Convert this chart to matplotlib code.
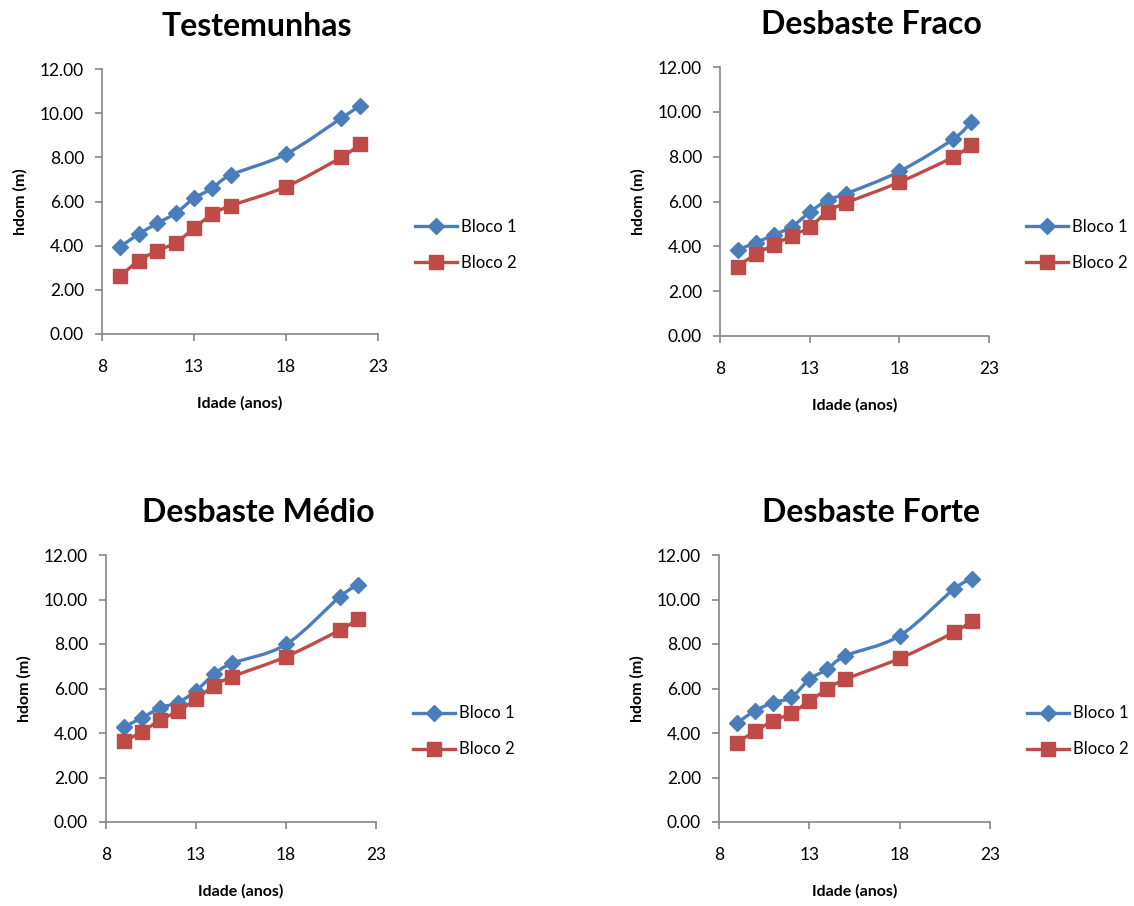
import matplotlib
matplotlib.use("Agg")
import matplotlib.pyplot as plt
import numpy as np
from matplotlib.lines import Line2D
from matplotlib.patches import PathPatch
from matplotlib.path import Path

plt.rcParams["font.family"] = ["Lato", "DejaVu Sans"]

idade = [9, 10, 11, 12, 13, 14, 15, 18, 21, 22]

titles = ["Testemunhas", "Desbaste Fraco", "Desbaste Médio", "Desbaste Forte"]

test_b1 = [3.95, 4.53, 5.01, 5.47, 6.14, 6.60, 7.20, 8.15, 9.77, 10.33]
test_b2 = [2.63, 3.32, 3.77, 4.13, 4.79, 5.43, 5.81, 6.67, 8.00, 8.59]
fraco_b1 = [3.84, 4.17, 4.51, 4.88, 5.52, 6.07, 6.34, 7.34, 8.78, 9.54]
fraco_b2 = [3.10, 3.66, 4.06, 4.48, 4.85, 5.55, 5.93, 6.86, 7.98, 8.53]
medio_b1 = [4.28, 4.68, 5.13, 5.37, 5.90, 6.63, 7.13, 7.98, 10.13, 10.65]
medio_b2 = [3.63, 4.05, 4.58, 4.98, 5.52, 6.12, 6.53, 7.43, 8.63, 9.12]
forte_b1 = [4.46, 5.00, 5.37, 5.60, 6.41, 6.87, 7.47, 8.37, 10.47, 10.91]
forte_b2 = [3.57, 4.08, 4.55, 4.88, 5.43, 5.97, 6.42, 7.35, 8.52, 9.05]

series = [(test_b1, test_b2), (fraco_b1, fraco_b2), (medio_b1, medio_b2), (forte_b1, forte_b2)]

BLUE = "#4a7ebb"
RED = "#be4b48"
AXIS = "#868686"

W, H = 1134, 906
# axes boxes in pixels: left, top, right, bottom
boxes = [
    (102, 69, 378, 334),
    (720, 67, 989, 336),
    (106, 555, 376, 822),
    (719, 555, 990, 822),
]


def smooth_path(x, y):
    pts = np.column_stack([x, y]).astype(float)
    ext = np.vstack([pts[0], pts, pts[-1]])
    verts = [pts[0]]
    codes = [Path.MOVETO]
    for i in range(len(pts) - 1):
        p0, p1, p2, p3 = ext[i], ext[i + 1], ext[i + 2], ext[i + 3]
        c1 = p1 + (p2 - p0) / 6
        c2 = p2 - (p3 - p1) / 6
        verts += [c1, c2, p2]
        codes += [Path.CURVE4] * 3
    return Path(verts, codes)


fig = plt.figure(figsize=(W / 100, H / 100), dpi=100)

for k, (l, t, r, b) in enumerate(boxes):
    ax = fig.add_axes([l / W, 1 - b / H, (r - l) / W, (b - t) / H])
    b1, b2 = series[k]
    for vals, color, marker, ms in [(b1, BLUE, "D", 8), (b2, RED, "s", 10)]:
        ax.add_patch(PathPatch(smooth_path(idade, vals), facecolor="none",
                               edgecolor=color, linewidth=2.4, zorder=2))
        ax.plot(idade, vals, linestyle="none", marker=marker, markersize=ms,
                color=color, markeredgecolor=color, zorder=3)
    ax.set_xlim(8, 23)
    ax.set_ylim(0, 12)
    ax.set_xticks([8, 13, 18, 23])
    ax.set_yticks(np.arange(0, 13, 2))
    ax.set_yticklabels([f"{v:.2f}" for v in np.arange(0, 13, 2)])
    for s in ["top", "right"]:
        ax.spines[s].set_visible(False)
    for s in ["left", "bottom"]:
        ax.spines[s].set_color(AXIS)
        ax.spines[s].set_linewidth(1.2)
    ax.tick_params(colors=AXIS, labelcolor="black", labelsize=12.5, length=5, width=1.2)
    ax.tick_params(axis="x", pad=13)
    ax.tick_params(axis="y", pad=8)
    ax.set_xlabel("Idade (anos)", fontsize=11.5, fontweight="bold", labelpad=15)
    ax.set_ylabel("hdom (m)", fontsize=11.5, fontweight="bold", labelpad=9)

    cx = (l + r) / 2 + 17
    ty = t - 42
    fig.text(cx / W, 1 - ty / H, titles[k], ha="center", va="center",
             fontsize=23, fontweight="bold")

    handles = [
        Line2D([], [], color=BLUE, linewidth=2.4, marker="D", markersize=8),
        Line2D([], [], color=RED, linewidth=2.4, marker="s", markersize=10),
    ]
    ly = (t + b) / 2 + 43
    ax.legend(handles, ["Bloco 1", "Bloco 2"], loc="center left",
              bbox_to_anchor=((r + 37) / W, 1 - ly / H),
              bbox_transform=fig.transFigure, frameon=False, fontsize=12,
              handlelength=2.5, handletextpad=0.25, labelspacing=1.2,
              borderpad=0, borderaxespad=0)

fig.savefig("out.png", dpi=100)
